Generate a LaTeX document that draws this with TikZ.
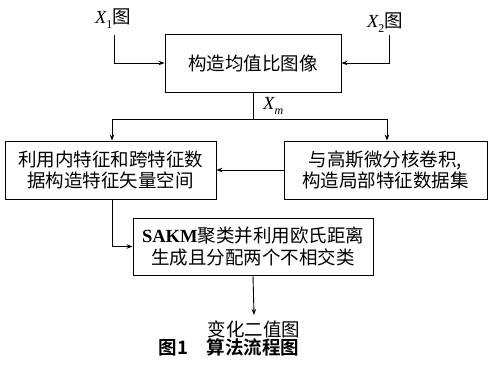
\documentclass[tikz,border=0pt]{standalone}
\usepackage{fontspec}
\setmainfont{Liberation Serif}
\newfontfamily\cjk{Noto Sans CJK SC}
\newfontfamily\cjkb{Noto Sans CJK SC Bold}
\usetikzlibrary{arrows.meta}
\newcommand{\vx}[1]{{\rmfamily\itshape X}\raisebox{-5pt}{\fontsize{12}{12}\selectfont\rmfamily #1}}
\begin{document}
\begin{tikzpicture}[x=1pt,y=-1pt,
  box/.style={draw,line width=0.9pt,inner sep=0pt,align=center,
    font=\fontsize{18.5}{21.5}\selectfont\cjk},
  lbl/.style={inner sep=0pt,font=\fontsize{18.5}{21}\selectfont\cjk},
  conn/.style={line width=0.9pt,-{Stealth[length=6pt,width=4.5pt]}},
  plain/.style={line width=0.9pt}]
\useasboundingbox (0,0) rectangle (489,367);
\node[box,minimum width=176pt,minimum height=58pt] (top) at (253,63) {构造均值比图像};
\node[box,minimum width=211pt,minimum height=58pt] (left) at (110.5,170) {利用内特征和跨特征数\\据构造特征矢量空间};
\node[box,minimum width=203pt,minimum height=58pt] (right) at (385.5,170) {与高斯微分核卷积,\\构造局部特征数据集};
\node[box,minimum width=240pt,minimum height=57pt] (bot) at (253,246.5) {{\rmfamily\bfseries SAKM}聚类并利用欧氏距离\\生成且分配两个不相交类};
\node[lbl] (x1) at (113,19) {\vx{1}图};
\node[lbl] (x2) at (385,23) {\vx{2}图};
\node[lbl,anchor=west] (xm) at (263,106) {\vx{\itshape m}};
\node[lbl] (out) at (254,329) {变化二值图};
\node[inner sep=0pt,font=\fontsize{18.5}{21}\selectfont\cjkb] (cap) at (229,347) {图1\hspace{1em}算法流程图};
\coordinate (jx) at (253,119);
\coordinate (jl) at (112,119);
\coordinate (jr) at (387,119);
\draw[conn] (114,35) |- (top.west);
\draw[conn] (389,35) |- (top.east);
\draw[plain] (top.south) -- (jx);
\draw[plain] (jl) -- (jr);
\draw[conn] (jl) -- (jl|-left.north);
\draw[conn] (jr) -- (jr|-right.north);
\draw[conn] (right.west) -- (left.east);
\draw[conn] (112,199) |- (bot.west);
\draw[conn] (bot.south) -- (254,315);
\end{tikzpicture}
\end{document}
